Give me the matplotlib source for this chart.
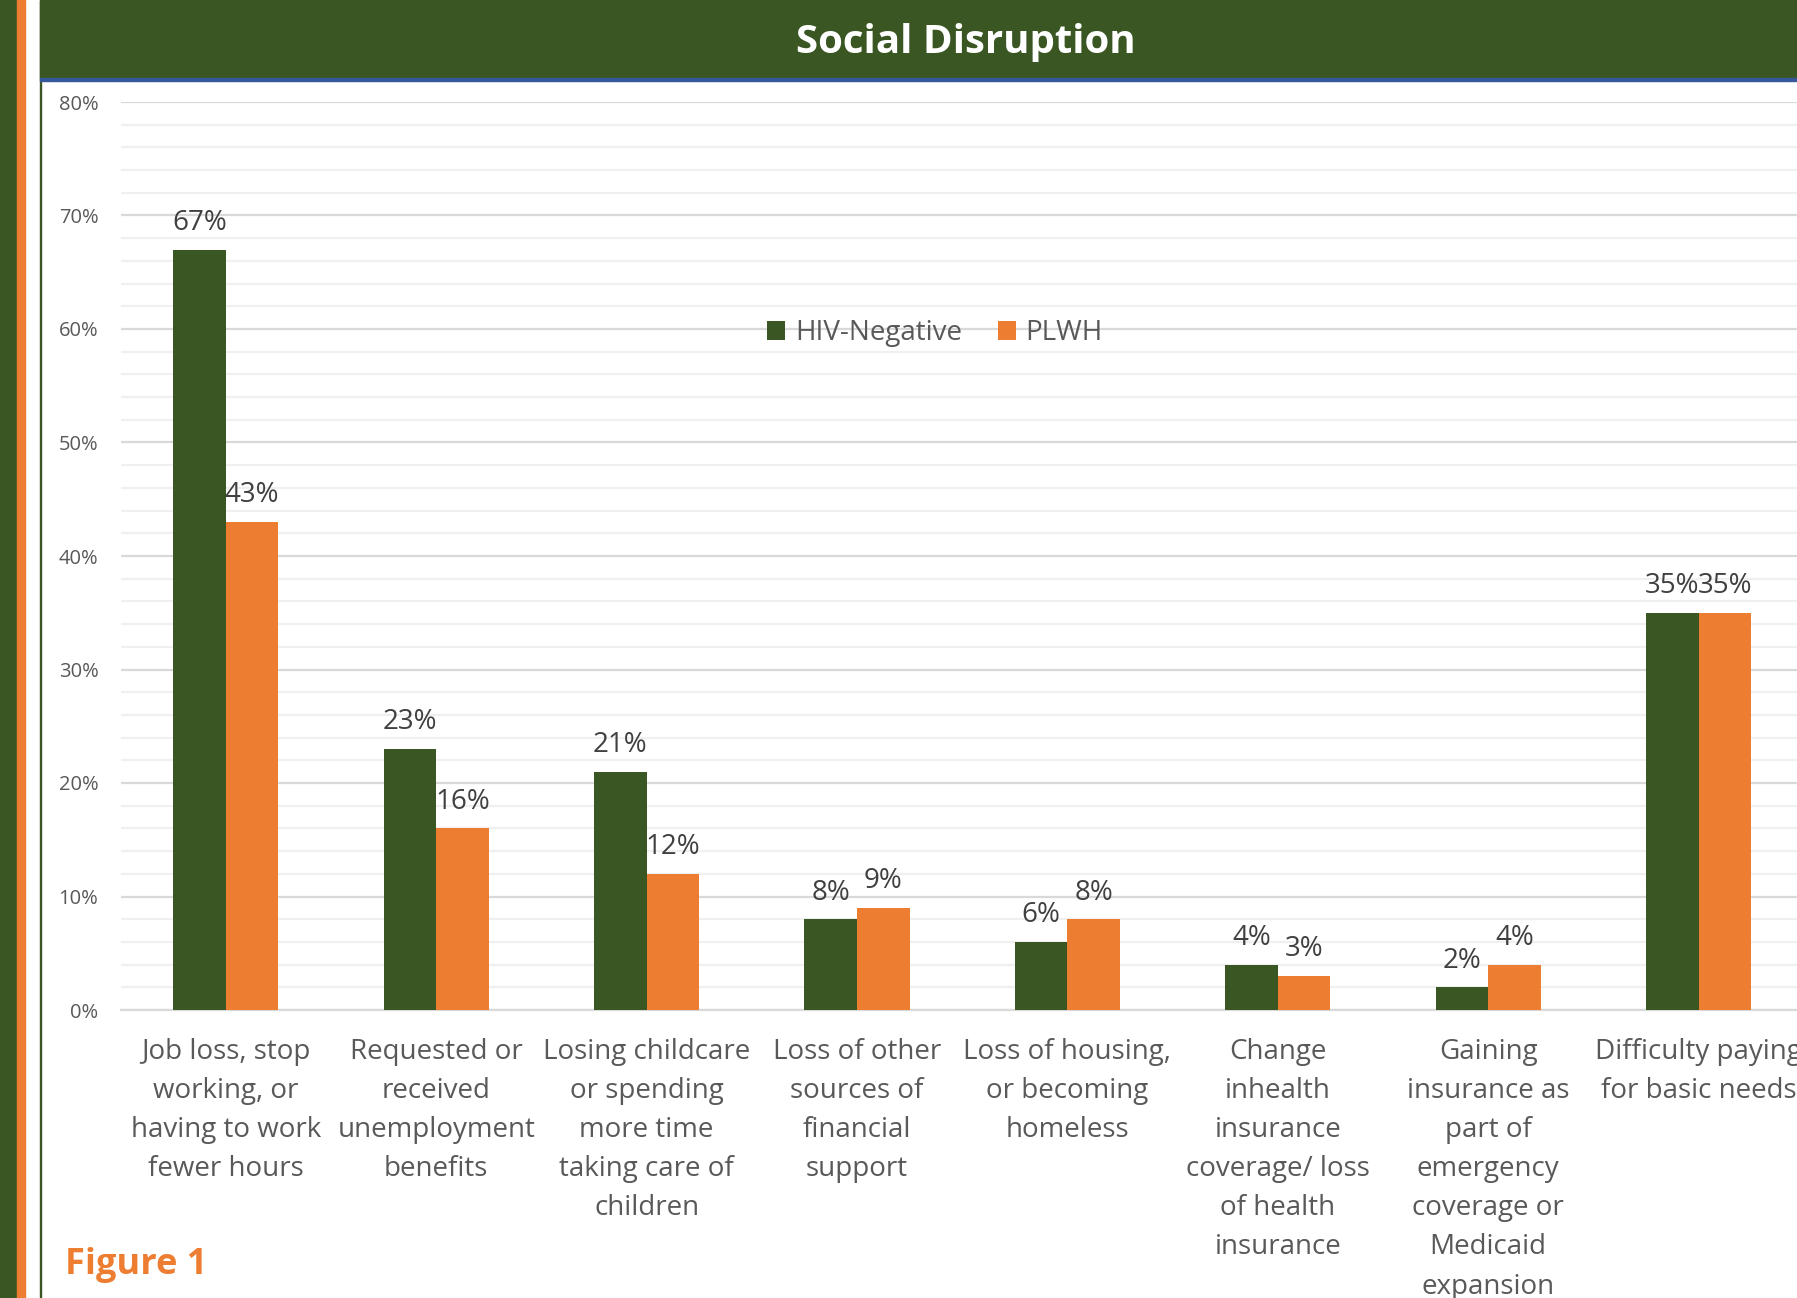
import numpy as np
import matplotlib
matplotlib.use("Agg")
import matplotlib.pyplot as plt
from matplotlib.patches import Rectangle
from matplotlib.ticker import MultipleLocator, FuncFormatter

plt.rcParams['font.family'] = ['Open Sans', 'DejaVu Sans']

# data
categories = [
    "Job loss, stop\nworking, or\nhaving to work\nfewer hours",
    "Requested or\nreceived\nunemployment\nbenefits",
    "Losing childcare\nor spending\nmore time\ntaking care of\nchildren",
    "Loss of other\nsources of\nfinancial\nsupport",
    "Loss of housing,\nor becoming\nhomeless",
    "Change\ninhealth\ninsurance\ncoverage/ loss\nof health\ninsurance",
    "Gaining\ninsurance as\npart of\nemergency\ncoverage or\nMedicaid\nexpansion",
    "Difficulty paying\nfor basic needs",
]
hiv_negative = [67, 23, 21, 8, 6, 4, 2, 35]
plwh = [43, 16, 12, 9, 8, 3, 4, 35]
series_names = ["HIV-Negative", "PLWH"]

GREEN = "#3A5623"
ORANGE = "#ED7D31"
GRAY = "#595959"

W, H = 1797, 1298
fig = plt.figure(figsize=(W / 100, H / 100), dpi=100)

# side stripes and header band
fig.patches.append(Rectangle((0, 0), 16.5 / W, 1, transform=fig.transFigure, color=GREEN, zorder=0))
fig.patches.append(Rectangle((16.5 / W, 0), 8 / W, 1, transform=fig.transFigure, color=ORANGE, zorder=0))
fig.patches.append(Rectangle((39.5 / W, 0), 1.5 / W, 1, transform=fig.transFigure, color=GREEN, zorder=0))
fig.patches.append(Rectangle((40 / W, 1 - 78 / H), 1, 78 / H, transform=fig.transFigure, color=GREEN, zorder=0))
fig.patches.append(Rectangle((40 / W, 1 - 81 / H), 1, 3.5 / H, transform=fig.transFigure, color="#34589A", zorder=0))
fig.text(966 / W, 1 - 43 / H, "Social Disruption", color="white", fontsize=29,
         fontweight="bold", ha="center", va="center")
fig.text(65 / W, 1 - 1265 / H, "Figure 1", color=ORANGE, fontsize=26, fontweight="bold",
         ha="left", va="center")

# plot area runs past the right edge of the figure (cropped like the original)
cat_w = 210.4
ax_left, ax_bottom = 120.6 / W, (H - 1010) / H
ax = fig.add_axes([ax_left, ax_bottom, 8 * cat_w / W, (1010 - 102) / H])

x = np.arange(len(categories))
bw = 0.25
b1 = ax.bar(x - bw / 2, hiv_negative, bw, color=GREEN, label=series_names[0], zorder=3)
b2 = ax.bar(x + bw / 2, plwh, bw, color=ORANGE, label=series_names[1], zorder=3)

for bars in (b1, b2):
    for rect in bars:
        v = rect.get_height()
        ax.annotate(f"{v:.0f}%", (rect.get_x() + rect.get_width() / 2, v),
                    xytext=(0, 9), textcoords="offset points", ha="center", va="bottom",
                    fontsize=20, color="#404040")

ax.set_xlim(-0.5, len(categories) - 0.5)
ax.set_ylim(0, 80)
ax.yaxis.set_major_locator(MultipleLocator(10))
ax.yaxis.set_minor_locator(MultipleLocator(2))
ax.yaxis.set_major_formatter(FuncFormatter(lambda v, p: f"{v:.0f}%"))
ax.grid(axis="y", which="major", color="#D9D9D9", lw=1.6, zorder=0)
ax.grid(axis="y", which="minor", color="#F0F0F0", lw=1.6, zorder=0)
for s in ["top", "right", "left"]:
    ax.spines[s].set_visible(False)
ax.spines["bottom"].set_color("#D9D9D9")
ax.spines["bottom"].set_linewidth(1.6)
ax.tick_params(axis="y", which="both", length=0, labelsize=14.5, labelcolor=GRAY, pad=16)
ax.tick_params(axis="x", length=0, labelsize=20, labelcolor=GRAY, pad=20)
ax.set_xticks(x)
ax.set_xticklabels(categories, va="top", ha="center")
for lbl in ax.get_xticklabels():
    lbl.set_linespacing(1.53)

ax.legend(loc="center", bbox_to_anchor=((935 - 120.6) / (8 * cat_w), (1010 - 333) / (1010 - 102)),
          ncol=2, frameon=False, fontsize=20, labelcolor=GRAY, handlelength=0.65,
          handleheight=0.65, handletextpad=0.35, columnspacing=1.3)

fig.savefig("out.png", dpi=100)
